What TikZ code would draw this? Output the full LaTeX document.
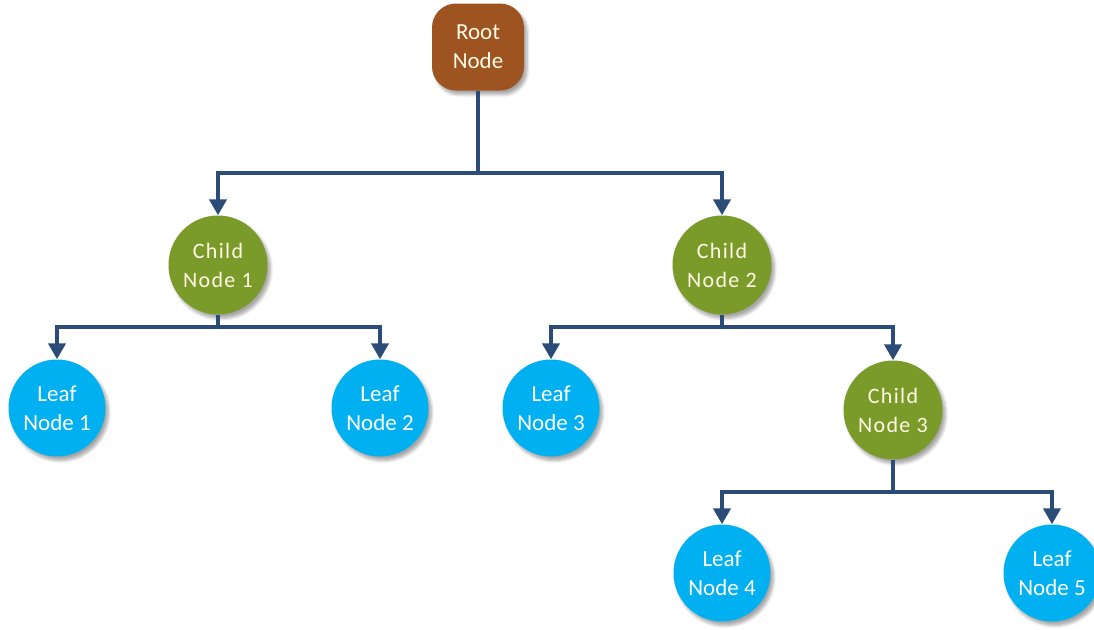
\documentclass[tikz,border=0pt]{standalone}
\usepackage{fontspec}
\setmainfont{Carlito}
\newfontfamily\childfont[LetterSpace=6]{Carlito}
\usetikzlibrary{arrows.meta,shadows.blur}
\definecolor{rootc}{HTML}{9E5420}
\definecolor{childc}{HTML}{7A9A2A}
\definecolor{leafc}{HTML}{00B0F0}
\definecolor{linec}{HTML}{2A4C76}
\definecolor{txtc}{HTML}{FFFBE6}
\tikzset{
  shad/.style={blur shadow={shadow xshift=3pt, shadow yshift=-4pt, shadow blur steps=6, shadow opacity=35, shadow blur radius=3pt}},
  base/.style={shad, text=txtc, align=center, inner sep=0pt,
    font=\fontsize{23}{29}\selectfont},
  rootbox/.style={base, fill=rootc, minimum width=92pt, minimum height=87pt, rounded corners=24pt},
  childbox/.style={base, fill=childc, circle, minimum size=99pt, font=\childfont\fontsize{22}{29}\selectfont},
  leafbox/.style={base, fill=leafc, circle, minimum size=97pt, text=white},
  conn/.style={draw=linec, line width=4pt, -{Triangle[width=17pt,length=16pt]}},
  plain/.style={draw=linec, line width=4pt}
}
\begin{document}
\begin{tikzpicture}[x=1pt,y=-1pt]
\useasboundingbox (0,0) rectangle (1094,629);
\node[rootbox] (root) at (478,47) {Root\\Node};
\node[childbox] (c1) at (218,265) {Child\\Node 1};
\node[childbox] (c2) at (722,265) {Child\\Node 2};
\node[childbox] (c3) at (893,410) {Child\\Node 3};
\node[leafbox] (l1) at (57,408) {Leaf\\Node 1};
\node[leafbox] (l2) at (380,408) {Leaf\\Node 2};
\node[leafbox] (l3) at (551,408) {Leaf\\Node 3};
\node[leafbox] (l4) at (722,573) {Leaf\\Node 4};
\node[leafbox] (l5) at (1052,573) {Leaf\\Node 5};
\coordinate (j0) at (478,173);
\coordinate (j1) at (218,327);
\coordinate (j2) at (722,327);
\coordinate (j3) at (893,492);
\draw[plain] (root.south) -- (j0);
\draw[conn] (j0) -| (c1.north);
\draw[conn] (j0) -| (c2.north);
\draw[plain] (c1.south) -- (j1);
\draw[conn] (j1) -| (l1.north);
\draw[conn] (j1) -| (l2.north);
\draw[plain] (c2.south) -- (j2);
\draw[conn] (j2) -| (l3.north);
\draw[conn] (j2) -| (c3.north);
\draw[plain] (c3.south) -- (j3);
\draw[conn] (j3) -| (l4.north);
\draw[conn] (j3) -| (l5.north);
\end{tikzpicture}
\end{document}
